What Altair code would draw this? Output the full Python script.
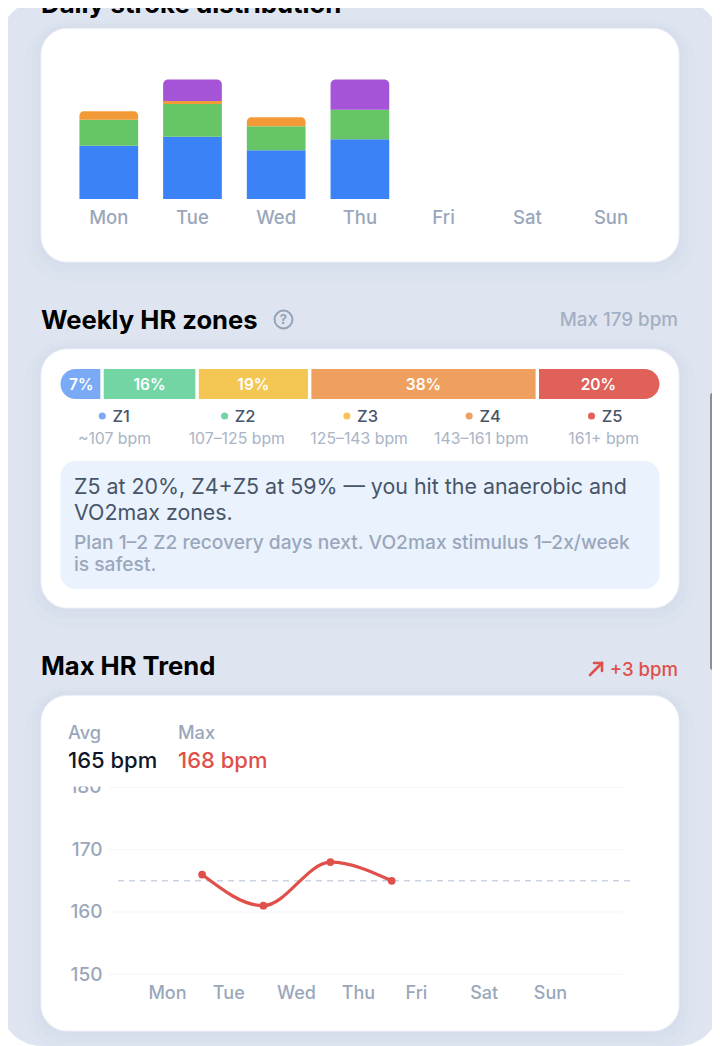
import altair as alt
import pandas as pd

FONT = "Inter"
W, H = 704, 1038
GRAY = "#94a3b8"
RED = "#e0504a"

days = ["Mon", "Tue", "Wed", "Thu", "Fri", "Sat", "Sun"]
stroke_kinds = ["Free", "Breast", "Fly", "Back"]
stroke_colors = ["#3b82f6", "#66c566", "#f29a38", "#a554d8"]
stroke_free = [53.5, 62.5, 49, 60]
stroke_breast = [26, 33, 24, 29.5]
stroke_fly = [8.5, 3, 9, 0]
stroke_back = [0, 21.5, 0, 30.5]

zones = ["Z1", "Z2", "Z3", "Z4", "Z5"]
zone_pct = [7, 16, 19, 38, 20]
zone_width = [6.93, 15.87, 18.8, 38, 20.4]
zone_ranges = ["~107 bpm", "107–125 bpm", "125–143 bpm", "143–161 bpm", "161+ bpm"]
zone_colors = ["#7aa9f5", "#74d5a4", "#f4c654", "#ef9f5e", "#e0605a"]

trend_pos = [0.55, 1.51, 2.56, 3.52]
trend_hr = [166, 161, 168, 165]
trend_tick_pos = [0, 0.96, 2.02, 2.99, 3.9, 4.96, 6]
hr_ticks = [150, 160, 170]
hr_grid = [150, 160, 170, 180]
hr_avg = 165


def px(v):
    return v - 8


one = pd.DataFrame({"a": [1]})


def box(x0, y0, x1, y1, fill, radius=0, opacity=1.0, stroke=None, sw=0):
    kw = dict(fill=fill, cornerRadius=radius, opacity=opacity)
    if stroke:
        kw.update(stroke=stroke, strokeWidth=sw)
    return alt.Chart(one).mark_rect(**kw).encode(
        x=alt.value(px(x0)), x2=alt.value(px(x1)), y=alt.value(px(y0)), y2=alt.value(px(y1))
    )


def label(text, x, y, size, color, weight=400, align="left"):
    return alt.Chart(one).mark_text(
        font=FONT, fontSize=size, fontWeight=weight, color=color, align=align, baseline="middle"
    ).encode(x=alt.value(px(x)), y=alt.value(px(y)), text=alt.value(text))


def seg(x0, y0, x1, y1, color, width):
    return alt.Chart(one).mark_rule(color=color, strokeWidth=width, strokeCap="round").encode(
        x=alt.value(px(x0)), x2=alt.value(px(x1)), y=alt.value(px(y0)), y2=alt.value(px(y1))
    )


layers = []
# page frame
layers.append(box(0, 0, 720, 1046, "#dee5f1", radius=42))
# cards with soft shadow
for (x0, y0, x1, y1) in [(41, 28.5, 679, 262), (41, 349, 679, 608), (41, 695.5, 679, 1031)]:
    for k, op in [(16, 0.05), (9, 0.06), (3, 0.08)]:
        layers.append(box(x0 - k, y0 - k / 2, x1 + k, y1 + k * 1.2, "#b4c2d8", radius=26 + k, opacity=op))
    layers.append(box(x0, y0, x1, y1, "#ffffff", radius=26, stroke="#eef1f7", sw=1))

# section heads
layers += [
    label("Daily stroke distribution", 41, 5, 25.8, "#000000", 700),
    label("Weekly HR zones", 41, 320.5, 25.6, "#000000", 700),
    label("Max HR Trend", 41, 666.5, 25.6, "#000000", 700),
    label("Max 179 bpm", 678, 319.5, 18.8, "#a3afc2", 500, "right"),
    label("+3 bpm", 678, 669.5, 18.6, RED, 500, "right"),
    seg(590, 675, 602, 663, RED, 2.6),
    seg(594, 663, 602, 663, RED, 2.6),
    seg(602, 663, 602, 671, RED, 2.6),
    alt.Chart(one).mark_point(size=320, stroke=GRAY, strokeWidth=2, filled=False, opacity=1).encode(
        x=alt.value(px(283.5)), y=alt.value(px(319.5))
    ),
    label("?", 283.5, 320, 13, GRAY, 700, "center"),
]

# stacked daily bars
rows = []
for i, d in enumerate(days[:4]):
    lo = 0
    vals = [stroke_free[i], stroke_breast[i], stroke_fly[i], stroke_back[i]]
    top = max(j for j, v in enumerate(vals) if v > 0)
    for j, v in enumerate(vals):
        if v > 0:
            rows.append({"day": d, "kind": stroke_kinds[j], "lo": lo, "hi": lo + v, "top": j == top})
        lo += v
bars = pd.DataFrame(rows)
layers.append(
    alt.Chart(bars)
    .mark_bar(
        cornerRadiusTopLeft=alt.expr("datum.top ? 5 : 0"),
        cornerRadiusTopRight=alt.expr("datum.top ? 5 : 0"),
    )
    .encode(
        x=alt.X(
            "day:N",
            sort=days,
            scale=alt.Scale(domain=days, range=[px(66.95), px(652.85)], paddingInner=0.2987, paddingOuter=0.149),
            axis=alt.Axis(
                title=None, orient="bottom", offset=-(H - px(199)), domain=False, ticks=False, labelAngle=0,
                labelFont=FONT, labelFontSize=18.5, labelFontWeight=500, labelColor="#9aa7bb", labelPadding=9, zindex=1,
            ),
        ),
        y=alt.Y("lo:Q", scale=alt.Scale(domain=[0, 120], range=[px(199), px(79.5)]), axis=None),
        y2="hi:Q",
        color=alt.Color("kind:N", scale=alt.Scale(domain=stroke_kinds, range=stroke_colors), legend=None),
    )
)

# HR zone strip
cum = [sum(zone_width[:i]) for i in range(5)]
zd = pd.DataFrame({
    "zone": zones, "lo": cum, "hi": [c + p for c, p in zip(cum, zone_width)], "pct": zone_pct,
    "mid": [c + p / 2 for c, p in zip(cum, zone_width)],
    "txt": [f"{p}%" for p in zone_pct], "range": zone_ranges,
})
xz = alt.Scale(domain=[0, 100], range=[px(60.5), px(659.5)])
layers.append(
    alt.Chart(zd)
    .mark_rect(
        cornerRadiusTopLeft=alt.expr("datum.zone == 'Z1' ? 15 : 0"),
        cornerRadiusBottomLeft=alt.expr("datum.zone == 'Z1' ? 15 : 0"),
        cornerRadiusTopRight=alt.expr("datum.zone == 'Z5' ? 15 : 0"),
        cornerRadiusBottomRight=alt.expr("datum.zone == 'Z5' ? 15 : 0"),
    )
    .encode(
        x=alt.X("lo:Q", scale=xz, axis=None),
        x2="hi:Q",
        y=alt.value(px(369)),
        y2=alt.value(px(399)),
        color=alt.Color("zone:N", scale=alt.Scale(domain=zones, range=zone_colors), legend=None),
    )
)
layers.append(
    alt.Chart(zd[zd.lo > 0]).mark_rule(color="#ffffff", strokeWidth=3.4).encode(
        x=alt.X("lo:Q", scale=xz, axis=None), y=alt.value(px(369)), y2=alt.value(px(399))
    )
)
layers.append(
    alt.Chart(zd).mark_text(font=FONT, fontSize=15.5, fontWeight=600, color="#ffffff", baseline="middle").encode(
        x=alt.X("mid:Q", scale=xz, axis=None), y=alt.value(px(384.5)), text="txt:N"
    )
)
# legend columns
band = alt.Scale(domain=zones, range=[px(53.35), px(664.85)], paddingInner=0, paddingOuter=0)
band_dot = alt.Scale(domain=zones, range=[px(41.15), px(652.65)], paddingInner=0, paddingOuter=0)
layers.append(
    alt.Chart(zd).mark_circle(size=50, opacity=1).encode(
        x=alt.X("zone:N", sort=zones, scale=band_dot, axis=None),
        y=alt.value(px(416)),
        color=alt.Color("zone:N", scale=alt.Scale(domain=zones, range=zone_colors), legend=None),
    )
)
layers.append(
    alt.Chart(zd).mark_text(font=FONT, fontSize=16.5, fontWeight=500, color="#475569", align="left", baseline="middle", dx=-2).encode(
        x=alt.X("zone:N", sort=zones, scale=band, axis=None), y=alt.value(px(416.5)), text="zone:N"
    )
)
layers.append(
    alt.Chart(zd).mark_text(font=FONT, fontSize=15.8, color="#a9b4c6", baseline="middle").encode(
        x=alt.X("zone:N", sort=zones, scale=band, axis=None), y=alt.value(px(439)), text="range:N"
    )
)
# insight box
layers += [
    box(60.5, 461, 659.5, 589, "#eaf2fd", radius=15),
    label("Z5 at 20%, Z4+Z5 at 59% — you hit the anaerobic and", 74, 488, 21.4, "#475569"),
    label("VO2max zones.", 74, 514, 21.4, "#475569"),
    label("Plan 1–2 Z2 recovery days next. VO2max stimulus 1–2x/week", 74, 543, 19.2, "#9aa7bb", 500),
    label("is safest.", 74, 565, 19.2, "#9aa7bb", 500),
]

# trend chart
yhr = alt.Scale(domain=[150, 180], range=[px(974.3), px(787.3)])
xt = alt.Scale(domain=[0, 6], range=[px(167), px(550)])
tick_expr = "{" + ",".join(f"'{p}':'{d}'" for p, d in zip(trend_tick_pos, days)) + "}[datum.value]"
layers.append(
    alt.Chart(pd.DataFrame({"v": hr_grid})).mark_rule(color="#f3f6fa", strokeWidth=1).encode(
        x=alt.value(px(109)), x2=alt.value(px(623)),
        y=alt.Y("v:Q", scale=yhr, axis=None),
    )
)
layers.append(
    alt.Chart(pd.DataFrame({"v": [180], "t": ["180"]})).mark_text(
        font=FONT, fontSize=19, fontWeight=500, color="#9aa7bb", align="right", baseline="middle"
    ).encode(x=alt.value(px(101.5)), y=alt.Y("v:Q", scale=yhr, axis=None), text="t:N")
)
layers.append(box(60, 765, 660, 786.5, "#ffffff"))
layers.append(
    alt.Chart(pd.DataFrame({"v": [hr_avg]})).mark_rule(color="#ccd3e2", strokeWidth=1.4, strokeDash=[6, 5]).encode(
        x=alt.value(px(118)), x2=alt.value(px(633)), y=alt.Y("v:Q", scale=yhr, axis=None)
    )
)
trend = pd.DataFrame({"pos": trend_pos, "hr": trend_hr})
trend_x = alt.X(
    "pos:Q",
    scale=xt,
    axis=alt.Axis(
        title=None, orient="bottom", offset=-(H - px(974.3)), domain=False, ticks=False, grid=False,
        values=trend_tick_pos, labelExpr=tick_expr, labelFont=FONT, labelFontSize=18, labelFontWeight=500,
        labelColor="#9aa7bb", labelPadding=10, labelFlush=False, labelOverlap=False, zindex=1,
    ),
)
trend_y = alt.Y(
    "hr:Q",
    scale=yhr,
    axis=alt.Axis(
        title=None, orient="left", offset=-px(109), domain=False, ticks=False, grid=False, values=hr_ticks,
        labelFont=FONT, labelFontSize=19, labelFontWeight=500, labelColor="#9aa7bb", labelPadding=7, zindex=1,
    ),
)
layers.append(
    alt.Chart(trend).mark_line(color=RED, strokeWidth=3.2, interpolate="monotone").encode(x=trend_x, y=trend_y)
)
layers.append(
    alt.Chart(trend).mark_circle(color=RED, size=60, opacity=1).encode(
        x=alt.X("pos:Q", scale=xt, axis=None), y=alt.Y("hr:Q", scale=yhr, axis=None)
    )
)
layers += [
    label("Avg", 68, 733.5, 18.2, "#9aa7bb", 500),
    label("Max", 178, 733.5, 18.2, "#9aa7bb", 500),
    label("165 bpm", 68, 761, 22, "#0f172a", 500),
    label("168 bpm", 178, 761, 22, RED, 500),
]
# scrollbar
layers.append(box(710, 393, 715, 670, "#8a8f99", radius=2.5))

chart = (
    alt.layer(*layers)
    .resolve_scale(x="independent", y="independent", color="independent")
    .properties(width=W, height=H, background="#ffffff", padding=0, autosize=alt.AutoSizeParams(type="none"))
    .configure_view(stroke=None)
)
chart.save("out.html", embed_options={"renderer": "svg", "actions": False})
